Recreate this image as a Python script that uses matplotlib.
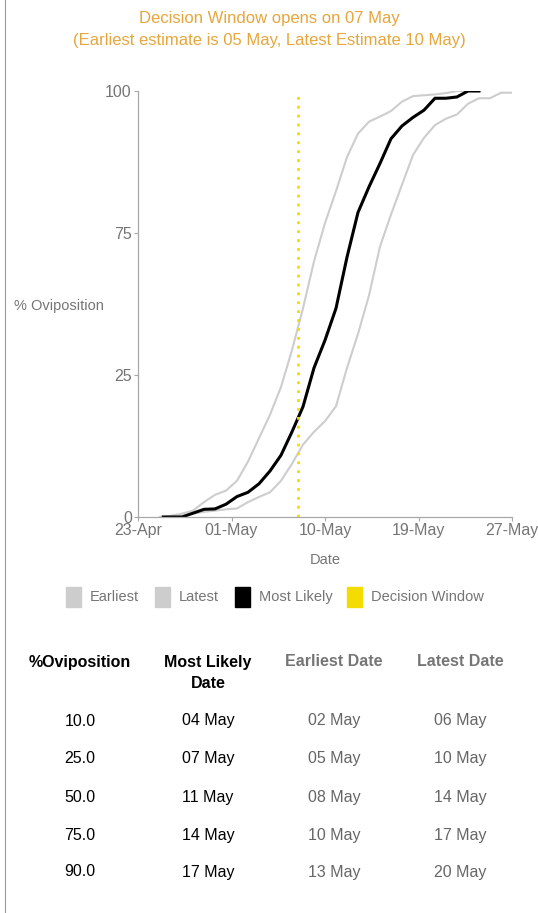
import matplotlib
matplotlib.use("Agg")
import matplotlib.pyplot as plt
from matplotlib.patches import Rectangle
from matplotlib.lines import Line2D

W, H = 538, 913

# days after 23-Apr
EARLIEST_DAYS = [2, 3, 4, 5, 6, 7, 8, 9, 10, 11, 12, 13, 14, 15, 16, 17, 18, 19, 20,
                 21, 22, 23, 24, 25, 26, 27, 28, 29, 30, 31]
EARLIEST = [0, 0.3, 0.8, 1.5, 3.5, 5.2, 6.2, 8.5, 13, 18.5, 24, 30.5, 39.2, 49, 60, 69,
            76.5, 84.5, 90, 92.8, 94, 95.3, 97.5, 98.8, 99, 99.2, 99.5, 100, 100, 100]

LATEST_DAYS = [2, 3, 4, 5, 6, 7, 8, 9, 10, 11, 12, 13, 14, 15, 16, 17, 18, 19, 20, 21,
               22, 23, 24, 25, 26, 27, 28, 29, 30, 31, 32, 33, 34]
LATEST = [0, 0, 0.3, 0.8, 1.2, 1.5, 1.8, 2.0, 3.5, 4.7, 5.8, 8.5, 12.5, 17, 20, 22.5, 26,
          35, 43, 52, 63.5, 71, 78, 85, 89, 92, 93.5, 94.5, 97, 98.3, 98.3, 99.6, 99.6]

LIKELY_DAYS = [2.3, 3, 4, 5, 6, 7, 8, 9, 10, 11, 12, 13, 14, 15, 16, 17, 18, 19, 20, 21,
               22, 23, 24, 25, 26, 27, 28, 29, 30, 31]
LIKELY = [0, 0, 0, 0.9, 1.8, 1.9, 3.0, 4.8, 5.8, 7.8, 10.8, 14.5, 20, 25.9, 35, 41.5,
          49, 61, 71.5, 77.5, 83, 88.8, 91.8, 93.8, 95.5, 98.3, 98.3, 98.6, 100, 100]

DECISION_DAY = 14.5  # 07 May

X_TICKS = [0, 8.5, 17, 25.5, 34]
X_TICK_LABELS = ["23-Apr", "01-May", "10-May", "19-May", "27-May"]
Y_TICKS = [0, 100 / 3, 200 / 3, 100]
Y_TICK_LABELS = ["0", "25", "75", "100"]

TABLE_HEAD = ["%Oviposition", "Most Likely", "Earliest Date", "Latest Date"]
TABLE_HEAD2 = ["", "Date", "", ""]
TAB_PCT = ["10.0", "25.0", "50.0", "75.0", "90.0"]
TAB_LIKELY = ["04 May", "07 May", "11 May", "14 May", "17 May"]
TAB_EARLIEST = ["02 May", "05 May", "08 May", "10 May", "13 May"]
TAB_LATEST = ["06 May", "10 May", "14 May", "17 May", "20 May"]

TITLE1 = "Decision Window opens on 07 May"
TITLE2 = "(Earliest estimate is 05 May, Latest Estimate 10 May)"

GREY_LINE = "#cdcdcd"
YELLOW = "#f5dc00"
TXT = "#757575"
SANS = ["Liberation Sans", "DejaVu Sans"]

plt.rcParams["font.family"] = SANS

fig = plt.figure(figsize=(W / 100, H / 100), dpi=100)


def fx(px):
    return px / W


def fy(py):
    return 1 - py / H


ax = fig.add_axes([fx(138), fy(517), fx(512) - fx(138), fy(91) - fy(517)])
ax.plot(EARLIEST_DAYS, EARLIEST, color=GREY_LINE, lw=1.5, solid_joinstyle="round")
ax.plot(LATEST_DAYS, LATEST, color=GREY_LINE, lw=1.5, solid_joinstyle="round")
ax.plot(LIKELY_DAYS, LIKELY, color="black", lw=2.2, solid_joinstyle="round")
ax.axvline(DECISION_DAY, color=YELLOW, lw=2, linestyle=(0, (1, 2.2)))

ax.set_xlim(0, 34)
ax.set_ylim(0, 100)
ax.set_xticks(X_TICKS)
ax.set_xticklabels(X_TICK_LABELS)
ax.set_yticks(Y_TICKS)
ax.set_yticklabels(Y_TICK_LABELS)
for s in ["top", "right"]:
    ax.spines[s].set_visible(False)
for s in ["left", "bottom"]:
    ax.spines[s].set_color("#a8a8a8")
    ax.spines[s].set_linewidth(0.9)
ax.tick_params(axis="both", direction="out", length=3, width=0.8, color="#a8a8a8",
               labelcolor=TXT, labelsize=11.5, pad=1.5)
ax.set_facecolor("none")

fig.text(fx(14), fy(306), "% Oviposition", ha="left", va="center", color=TXT,
         fontsize=10.5)
fig.text(fx(325), fy(560), "Date", ha="center", va="center", color=TXT,
         fontsize=10.5)

# title
fig.text(0.5, fy(19), TITLE1, ha="center", va="center", color="#e6a63c", fontsize=12)
fig.text(0.5, fy(40), TITLE2, ha="center", va="center", color="#e6a63c", fontsize=12)

# legend
legend_items = [("Earliest", GREY_LINE, 66), ("Latest", GREY_LINE, 155),
                ("Most Likely", "black", 235), ("Decision Window", YELLOW, 347)]
for name, col, x0 in legend_items:
    fig.add_artist(Rectangle((fx(x0), fy(607)), 15 / W, 20 / H, color=col,
                             transform=fig.transFigure))
    fig.text(fx(x0 + 24), fy(597), name, ha="left", va="center", color=TXT,
             fontsize=10.5)

# left border
fig.add_artist(Line2D([fx(5), fx(5)], [0, 1], color="#9a9a9a", lw=0.8,
                      transform=fig.transFigure))

# table
col_x = [80, 208, 334, 460]
head_col = ["black", "black", TXT, TXT]
for i in range(4):
    fig.text(fx(col_x[i]), fy(662), TABLE_HEAD[i], ha="center", va="center",
             color=head_col[i], fontsize=11.5, fontweight="bold")
    if TABLE_HEAD2[i]:
        fig.text(fx(col_x[i]), fy(683), TABLE_HEAD2[i], ha="center", va="center",
                 color=head_col[i], fontsize=11.5, fontweight="bold")
row_y = [721, 758, 797, 835, 872]
cols = [TAB_PCT, TAB_LIKELY, TAB_EARLIEST, TAB_LATEST]
val_col = ["black", "black", "#666666", "#666666"]
for j, y in enumerate(row_y):
    for i, c in enumerate(cols):
        fig.text(fx(col_x[i]), fy(y), c[j], ha="center", va="center",
                 color=val_col[i], fontsize=11.5)

fig.savefig("out.png", dpi=100, facecolor="white")
